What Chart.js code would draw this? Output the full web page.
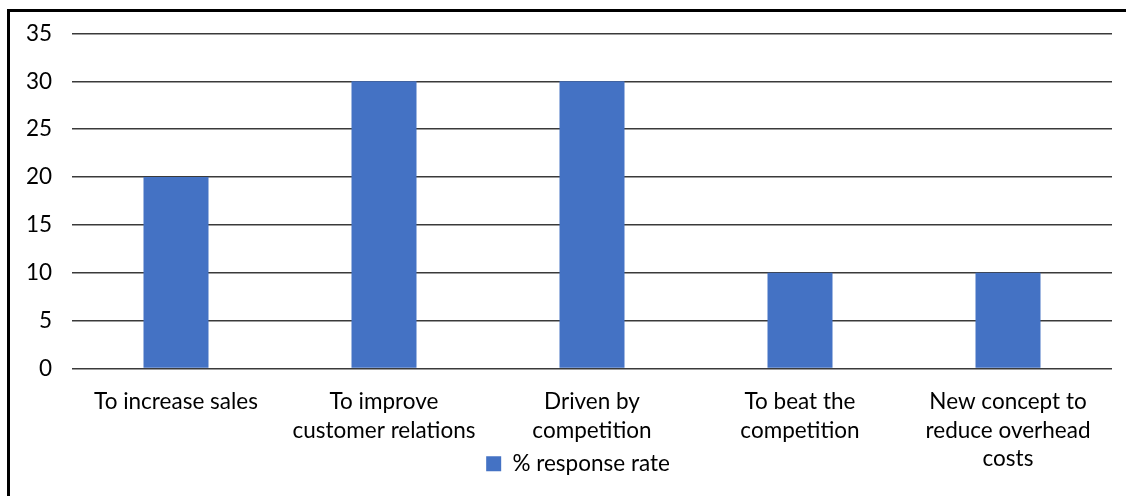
<!DOCTYPE html>
<html>
<head>
<meta charset="utf-8">
<script src="https://cdn.jsdelivr.net/npm/chart.js@4"></script>
<style>
  html, body { margin: 0; padding: 0; background: #fff; width: 1126px; height: 496px; overflow: hidden; }
  #frame { position: absolute; left: 7px; top: 9px; width: 1200px; height: 600px; border: 3px solid #000; box-sizing: border-box; }
  #wrap { position: absolute; left: 0; top: 0; width: 1126px; height: 496px; }
</style>
</head>
<body>
<div id="frame"></div>
<div id="wrap"><canvas id="c" width="1126" height="496"></canvas></div>
<script>
const categories = [
  "To increase sales",
  ["To improve", "customer relations"],
  ["Driven by", "competition"],
  ["To beat the", "competition"],
  ["New concept to", "reduce overhead", "costs"]
];
const seriesName = "% response rate";
const responseRate = [20, 30, 30, 10, 10];
const yTicks = [0, 5, 10, 15, 20, 25, 30, 35];

const FONT = "Lato";
const FSIZE = 22.5;

const layoutTweak = {
  id: 'layoutTweak',
  afterLayout(chart) {
    const lg = chart.legend;
    if (lg) { lg.left += 22; lg.right += 22; }
    // let the x tick labels (3-line label) extend below the scale box
    if (chart.scales.x) { chart.scales.x.bottom = chart.height; }
  }
};

new Chart(document.getElementById('c'), {
  type: 'bar',
  data: {
    labels: categories,
    datasets: [{
      label: seriesName,
      data: responseRate,
      backgroundColor: '#4472C4',
      borderWidth: 0,
      barPercentage: 0.3125,
      categoryPercentage: 1.0
    }]
  },
  options: {
    responsive: false,
    animation: false,
    devicePixelRatio: 1,
    layout: { padding: { top: 29.5, right: 14, bottom: 11, left: 0 } },
    plugins: {
      legend: {
        position: 'bottom',
        labels: {
          boxWidth: 15, boxHeight: 15, padding: 10,
          color: '#000',
          font: { family: FONT, size: FSIZE }
        }
      },
      tooltip: { enabled: false },
      title: { display: false }
    },
    scales: {
      x: {
        grid: { display: false, drawTicks: false },
        border: { display: false },
        ticks: {
          color: '#000', padding: 19, maxRotation: 0, autoSkip: false,
          font: { family: FONT, size: FSIZE, lineHeight: 1.267 }
        },
        afterFit(s) { s.height = 74; }
      },
      y: {
        min: 0, max: 35,
        afterBuildTicks(s) { s.ticks = yTicks.map(v => ({ value: v })); },
        grid: { color: '#3a3a3a', lineWidth: 1.5, drawTicks: false },
        border: { display: false },
        ticks: {
          color: '#000', padding: 20,
          font: { family: FONT, size: FSIZE }
        },
        afterFit(s) { s.width = 72; }
      }
    }
  },
  plugins: [layoutTweak]
});
</script>
</body>
</html>
